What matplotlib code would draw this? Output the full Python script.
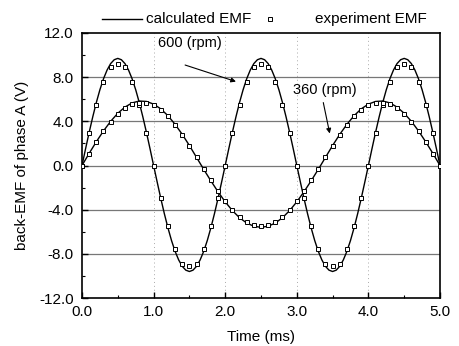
import matplotlib
matplotlib.use("Agg")
import matplotlib.pyplot as plt
from matplotlib.ticker import MultipleLocator
from matplotlib.lines import Line2D

plt.rcParams['font.family'] = ['Liberation Sans', 'DejaVu Sans']

# ---- data ----
t_calc600 = [i * 0.05 for i in range(101)]
calc600_half_pos = [1.52, 3.00, 4.40, 5.70, 6.86, 7.85, 8.64, 9.23, 9.58, 9.70,
                    9.58, 9.23, 8.64, 7.85, 6.86, 5.70, 4.40, 3.00, 1.52]
calc600_half_neg = [-1.50, -2.97, -4.36, -5.64, -6.79, -7.77, -8.55, -9.13, -9.48, -9.60,
                    -9.48, -9.13, -8.55, -7.77, -6.79, -5.64, -4.36, -2.97, -1.50]
calc600 = ([0.0] + calc600_half_pos + [0.0] + calc600_half_neg + [0.0]
           + calc600_half_pos + [0.0] + calc600_half_neg + [0.0] + calc600_half_pos + [0.0])

t_exp = [i * 0.1 for i in range(51)]
exp600 = [0.0, 2.9, 5.5, 7.6, 8.9, 9.2, 8.9, 7.6, 5.5, 2.9,
          0.0, -2.9, -5.5, -7.6, -8.9, -9.1, -8.9, -7.6, -5.5, -2.9,
          0.0, 2.9, 5.5, 7.6, 8.9, 9.2, 8.9, 7.6, 5.5, 2.9,
          0.0, -2.9, -5.5, -7.6, -8.9, -9.1, -8.9, -7.6, -5.5, -2.9,
          0.0, 2.9, 5.5, 7.6, 8.9, 9.2, 8.9, 7.6, 5.5, 2.9, 0.0]

t_calc360 = [i * 0.1 for i in range(51)]
calc360 = [0.0, 1.10, 2.15, 3.13, 4.00, 4.73, 5.29, 5.67, 5.84, 5.80,
           5.56, 5.13, 4.51, 3.73, 2.82, 1.81, 0.73, -0.35, -1.39, -2.38,
           -3.29, -4.08, -4.73, -5.21, -5.50, -5.60, -5.50, -5.21, -4.73, -4.08,
           -3.29, -2.38, -1.39, -0.35, 0.73, 1.81, 2.82, 3.73, 4.51, 5.13,
           5.56, 5.80, 5.84, 5.67, 5.29, 4.73, 4.00, 3.13, 2.15, 1.10, 0.0]
exp360 = [0.0, 1.05, 2.10, 3.10, 3.95, 4.65, 5.20, 5.55, 5.70, 5.70,
          5.45, 5.05, 4.45, 3.70, 2.80, 1.80, 0.75, -0.35, -1.35, -2.35,
          -3.25, -4.00, -4.65, -5.10, -5.35, -5.45, -5.35, -5.10, -4.65, -4.00,
          -3.25, -2.35, -1.35, -0.35, 0.75, 1.80, 2.80, 3.70, 4.45, 5.05,
          5.45, 5.70, 5.70, 5.55, 5.20, 4.65, 3.95, 3.10, 2.10, 1.05, 0.0]

xticks = [0.0, 1.0, 2.0, 3.0, 4.0, 5.0]
yticks = [-12.0, -8.0, -4.0, 0.0, 4.0, 8.0, 12.0]
legend_labels = ['calculated EMF', 'experiment EMF']

# ---- figure ----
W, H = 459, 346
fig = plt.figure(figsize=(W / 100, H / 100), dpi=100)
ax = fig.add_axes([82 / W, 1 - 298 / H, 358 / W, 265 / H])

for yv in yticks[1:-1]:
    ax.axhline(yv, color='#777777', lw=0.9, zorder=1)
for xv in xticks[1:-1]:
    ax.axvline(xv, color='#aaaaaa', lw=0.7, ls=(0, (1, 3)), zorder=1)

ax.plot(t_calc600, calc600, color='black', lw=1.0, zorder=3)
ax.plot(t_calc360, calc360, color='black', lw=1.0, zorder=3)
ax.plot(t_exp, exp600, ls='none', marker='s', ms=3.2, mfc='white', mec='black',
        mew=0.7, zorder=4)
ax.plot(t_exp, exp360, ls='none', marker='s', ms=3.2, mfc='white', mec='black',
        mew=0.7, zorder=4)

ax.set_xlim(0, 5)
ax.set_ylim(-12, 12)
ax.set_xticks(xticks)
ax.set_yticks(yticks)
ax.set_xticklabels([f"{v:.1f}" for v in xticks])
ax.set_yticklabels([f"{v:.1f}" for v in yticks])
ax.xaxis.set_minor_locator(MultipleLocator(0.5))
ax.yaxis.set_minor_locator(MultipleLocator(2))
ax.tick_params(which='both', direction='in', labelsize=11, top=False, right=False)
ax.tick_params(which='major', length=4, width=1)
ax.tick_params(axis='x', which='major', pad=5)
ax.tick_params(axis='y', which='major', pad=6)
ax.tick_params(which='minor', length=2.5, width=0.8)
for s in ax.spines.values():
    s.set_linewidth(1.2)

ax.set_xlabel('Time (ms)', fontsize=11, labelpad=8)
ax.set_ylabel('back-EMF of phase A (V)', fontsize=11, labelpad=7)

ax.text(1.51, 11.1, '600 (rpm)', fontsize=10.5, ha='center', va='center')
ax.annotate('', xy=(2.15, 7.6), xytext=(1.44, 9.1),
            arrowprops=dict(arrowstyle='-|>', color='black', lw=0.8,
                            mutation_scale=7, shrinkA=0, shrinkB=0))
ax.text(3.39, 6.8, '360 (rpm)', fontsize=10.5, ha='center', va='center')
ax.annotate('', xy=(3.46, 2.9), xytext=(3.37, 5.7),
            arrowprops=dict(arrowstyle='-|>', color='black', lw=0.8,
                            mutation_scale=7, shrinkA=0, shrinkB=0))

# legend drawn above the axes (figure pixel coordinates converted to fractions)
ly = 1 - 19 / H
fig.add_artist(Line2D([102 / W, 142 / W], [ly, ly], color='black', lw=1.0))
fig.text(146 / W, ly, legend_labels[0], fontsize=11, ha='left', va='center')
fig.add_artist(Line2D([270 / W], [ly], ls='none', marker='s', ms=3.2,
                      mfc='white', mec='black', mew=0.7))
fig.text(315 / W, ly, legend_labels[1], fontsize=11, ha='left', va='center')

fig.savefig('out.png', dpi=100)
